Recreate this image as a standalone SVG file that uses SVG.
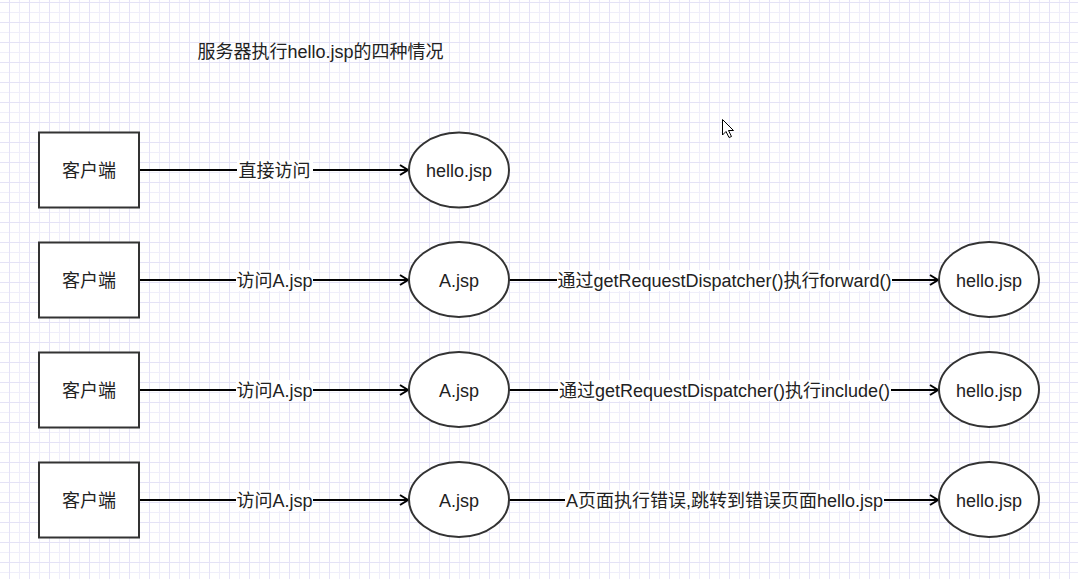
<svg xmlns="http://www.w3.org/2000/svg" width="1078" height="579" viewBox="0 0 1078 579">
  <defs>
    <pattern id="grid" patternUnits="userSpaceOnUse" x="9" y="2" width="20" height="20">
      <rect x="0" y="0" width="20" height="20" fill="#ffffff"/>
      <rect x="10" y="0" width="1" height="20" fill="#efeefa"/>
      <rect x="0" y="10" width="20" height="1" fill="#efeefa"/>
      <rect x="0" y="0" width="1" height="20" fill="#e4e2f6"/>
      <rect x="0" y="0" width="20" height="1" fill="#e4e2f6"/>
    </pattern>
    <marker id="arrow" markerUnits="userSpaceOnUse" markerWidth="14" markerHeight="14" refX="10" refY="7" orient="auto">
      <path d="M2,2 L10,7 L2,12" fill="none" stroke="#000" stroke-width="2" stroke-linejoin="miter"/>
    </marker>
  </defs>
  <style>
    .box { fill: #ffffff; stroke: #333333; stroke-width: 2; }
    .edge { fill: none; stroke: #000000; stroke-width: 2; }
    .t { font-family: "Liberation Sans", "Noto Sans CJK SC", Arial, sans-serif; font-size: 18px; fill: #222222; text-anchor: middle; }
    .lbl { fill: #ffffff; stroke: none; }
  </style>
  <rect x="0" y="0" width="1078" height="579" fill="url(#grid)"/>

  <text class="t" x="320.5" y="58">服务器执行hello.jsp的四种情况</text>

  <!-- cursor -->
  <g id="cursor">
    <path d="M722.5,119.5 L722.5,135 L726,131.5 L729,137.5 L731.5,136.5 L728.5,130.5 L733.5,130.5 Z" fill="#ffffff" stroke="#000000" stroke-width="1" stroke-linejoin="miter"/>
  </g>

  <g id="connectors">
    <line class="edge" x1="139" y1="170" x2="408" y2="170" marker-end="url(#arrow)"/>
    <line class="edge" x1="139" y1="280" x2="408" y2="280" marker-end="url(#arrow)"/>
    <line class="edge" x1="509" y1="280" x2="938" y2="280" marker-end="url(#arrow)"/>
    <line class="edge" x1="139" y1="390" x2="408" y2="390" marker-end="url(#arrow)"/>
    <line class="edge" x1="509" y1="390" x2="938" y2="390" marker-end="url(#arrow)"/>
    <line class="edge" x1="139" y1="500" x2="408" y2="500" marker-end="url(#arrow)"/>
    <line class="edge" x1="509" y1="500" x2="938" y2="500" marker-end="url(#arrow)"/>

    <rect class="lbl" x="237" y="160" width="76" height="21"/>
    <text class="t" x="274.5" y="176.5">直接访问</text>
    <rect class="lbl" x="236" y="270" width="77" height="21"/>
    <text class="t" x="274.5" y="286.5">访问A.jsp</text>
    <rect class="lbl" x="557" y="270" width="335" height="21"/>
    <text class="t" x="724.5" y="286.5">通过getRequestDispatcher()执行forward()</text>
    <rect class="lbl" x="236" y="380" width="77" height="21"/>
    <text class="t" x="274.5" y="396.5">访问A.jsp</text>
    <rect class="lbl" x="558" y="380" width="333" height="21"/>
    <text class="t" x="724.5" y="396.5">通过getRequestDispatcher()执行include()</text>
    <rect class="lbl" x="236" y="490" width="77" height="21"/>
    <text class="t" x="274.5" y="506.5">访问A.jsp</text>
    <rect class="lbl" x="565" y="490" width="319" height="21"/>
    <text class="t" x="724.5" y="506.5">A页面执行错误,跳转到错误页面hello.jsp</text>
  </g>

  <g id="client1">
    <rect class="box" x="39" y="132.5" width="100" height="75"/>
    <text class="t" x="89" y="176.5">客户端</text>
  </g>
  <g id="hello1">
    <ellipse class="box" cx="459" cy="170" rx="50" ry="37.5"/>
    <text class="t" x="459" y="176.5">hello.jsp</text>
  </g>

  <g id="client2">
    <rect class="box" x="39" y="242.5" width="100" height="75"/>
    <text class="t" x="89" y="286.5">客户端</text>
  </g>
  <g id="a2">
    <ellipse class="box" cx="459" cy="279.5" rx="50" ry="37.5"/>
    <text class="t" x="459" y="286.5">A.jsp</text>
  </g>
  <g id="hello2">
    <ellipse class="box" cx="989" cy="279.5" rx="50" ry="37.5"/>
    <text class="t" x="989" y="286.5">hello.jsp</text>
  </g>

  <g id="client3">
    <rect class="box" x="39" y="352.5" width="100" height="75"/>
    <text class="t" x="89" y="396.5">客户端</text>
  </g>
  <g id="a3">
    <ellipse class="box" cx="459" cy="389.5" rx="50" ry="37.5"/>
    <text class="t" x="459" y="396.5">A.jsp</text>
  </g>
  <g id="hello3">
    <ellipse class="box" cx="989" cy="389.5" rx="50" ry="37.5"/>
    <text class="t" x="989" y="396.5">hello.jsp</text>
  </g>

  <g id="client4">
    <rect class="box" x="39" y="462.5" width="100" height="75"/>
    <text class="t" x="89" y="506.5">客户端</text>
  </g>
  <g id="a4">
    <ellipse class="box" cx="459" cy="499.5" rx="50" ry="37.5"/>
    <text class="t" x="459" y="506.5">A.jsp</text>
  </g>
  <g id="hello4">
    <ellipse class="box" cx="989" cy="499.5" rx="50" ry="37.5"/>
    <text class="t" x="989" y="506.5">hello.jsp</text>
  </g>
</svg>
